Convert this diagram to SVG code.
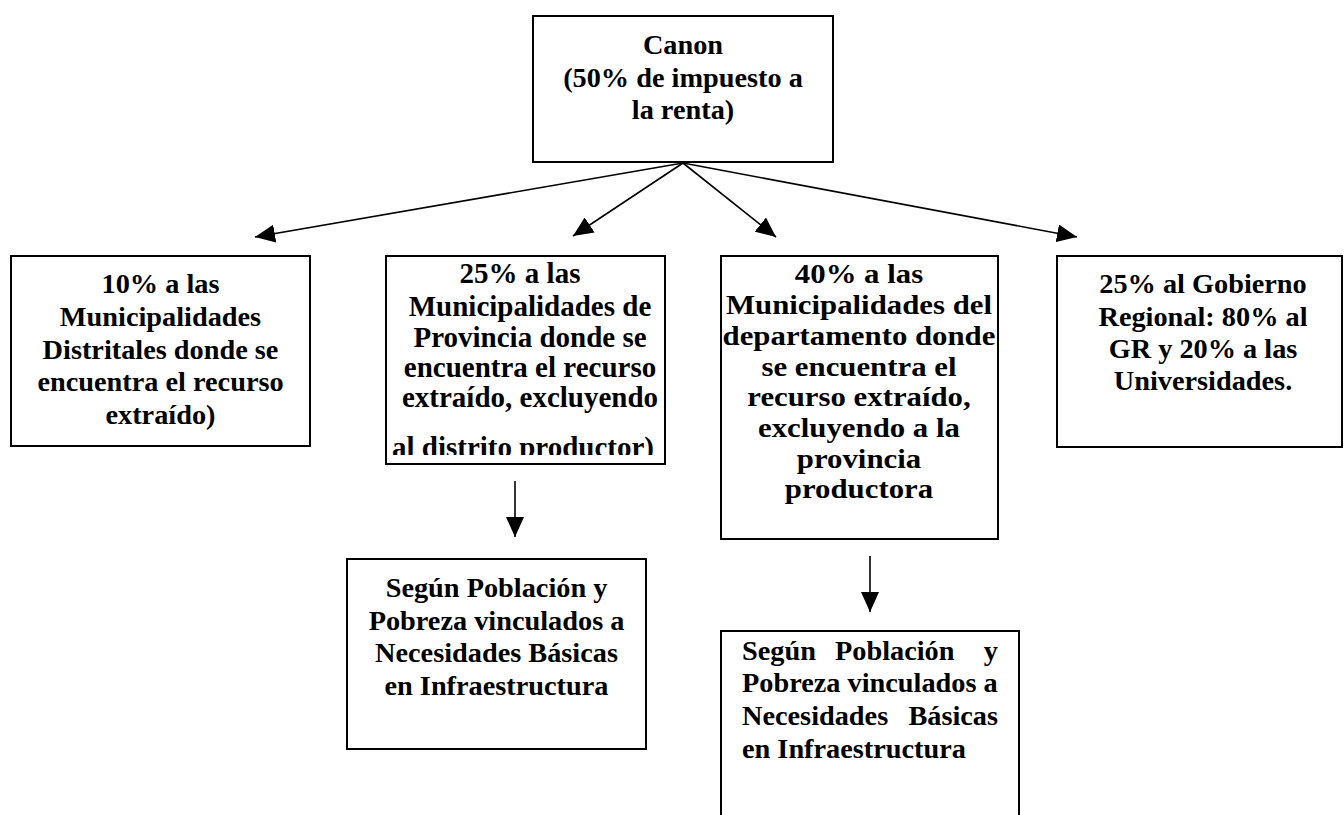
<svg xmlns="http://www.w3.org/2000/svg" width="1344" height="815" viewBox="0 0 1344 815">
<style>
.box{fill:#fff;stroke:#000;stroke-width:2}
.t{font-family:"Liberation Serif","Times New Roman",serif;font-weight:bold;font-size:28.3px;fill:#000;text-anchor:middle}
.tb{font-size:29px}
.tc{font-size:28px}
.tl{text-anchor:start}
.con{stroke:#000;stroke-width:1.6;fill:none;marker-end:url(#ah)}
</style>
<defs>
<marker id="ah" viewBox="0 0 20 18" refX="20" refY="9" markerWidth="20" markerHeight="18" orient="auto" markerUnits="userSpaceOnUse">
<path d="M0,0 L20,9 L0,18 Z" fill="#000"/>
</marker>
<clipPath id="c2"><rect x="386" y="256" width="279" height="199"/></clipPath>
</defs>
<rect width="1344" height="815" fill="#fff"/>
<g id="connectors">
<line class="con" x1="683" y1="163" x2="255" y2="237"/>
<line class="con" x1="683" y1="163" x2="573" y2="236"/>
<line class="con" x1="683" y1="163" x2="776" y2="237"/>
<line class="con" x1="683" y1="163" x2="1077" y2="237"/>
<line class="con" x1="515" y1="481" x2="515" y2="537"/>
<line class="con" x1="870" y1="556" x2="870" y2="612"/>
</g>
<g id="canon">
<rect class="box" x="533" y="16" width="300" height="146"/>
<text class="t" x="683" y="54">Canon</text>
<text class="t" x="683" y="87">(50% de impuesto a</text>
<text class="t" x="683" y="119">la renta)</text>
</g>
<g id="distritales">
<rect class="box" x="11" y="256" width="299" height="190"/>
<text class="t" x="160.5" y="293">10% a las</text>
<text class="t" x="160.5" y="326">Municipalidades</text>
<text class="t" x="160.5" y="359">Distritales donde se</text>
<text class="t" x="160.5" y="391">encuentra el recurso</text>
<text class="t" x="160.5" y="424">extraído)</text>
</g>
<g id="provincia">
<rect class="box" x="386" y="256" width="279" height="208"/>
<g clip-path="url(#c2)">
<text class="t tb" x="520" y="283">25% a las</text>
<text class="t tb" x="530" y="316">Municipalidades de</text>
<text class="t tb" x="530" y="347">Provincia donde se</text>
<text class="t tb" x="530" y="377">encuentra el recurso</text>
<text class="t tb" x="530" y="407">extraído, excluyendo</text>
<text class="t tb" x="523" y="457">al distrito productor)</text>
</g>
</g>
<g id="departamento">
<rect class="box" x="721" y="256" width="277" height="283"/>
<g transform="translate(859,0) scale(1.1,1) translate(-859,0)">
<text class="t tc" x="859" y="283">40% a las</text>
<text class="t tc" x="859" y="314">Municipalidades del</text>
<text class="t tc" x="859" y="345">departamento donde</text>
<text class="t tc" x="859" y="376">se encuentra el</text>
<text class="t tc" x="859" y="406">recurso extraído,</text>
<text class="t tc" x="859" y="437">excluyendo a la</text>
<text class="t tc" x="859" y="468">provincia</text>
<text class="t tc" x="859" y="498">productora</text>
</g>
</g>
<g id="gobierno">
<rect class="box" x="1057" y="256" width="285" height="191"/>
<text class="t" x="1203" y="293">25% al Gobierno</text>
<text class="t" x="1203" y="326">Regional: 80% al</text>
<text class="t" x="1203" y="358">GR y 20% a las</text>
<text class="t" x="1203" y="390">Universidades.</text>
</g>
<g id="poblacion1">
<rect class="box" x="347" y="559" width="299" height="190"/>
<text class="t" x="496.5" y="597">Según Población y</text>
<text class="t" x="496.5" y="630">Pobreza vinculados a</text>
<text class="t" x="496.5" y="662">Necesidades Básicas</text>
<text class="t" x="496.5" y="695">en Infraestructura</text>
</g>
<g id="poblacion2">
<path class="box" d="M721,815 L721,631 L1019,631 L1019,815"/>
<text class="t tl" y="660"><tspan x="742">Según</tspan><tspan x="835">Población</tspan><tspan x="998" text-anchor="end">y</tspan></text>
<text class="t tl" x="742" y="692">Pobreza vinculados a</text>
<text class="t tl" y="725"><tspan x="742">Necesidades</tspan><tspan x="998" text-anchor="end">Básicas</tspan></text>
<text class="t tl" x="742" y="758">en Infraestructura</text>
</g>
</svg>
